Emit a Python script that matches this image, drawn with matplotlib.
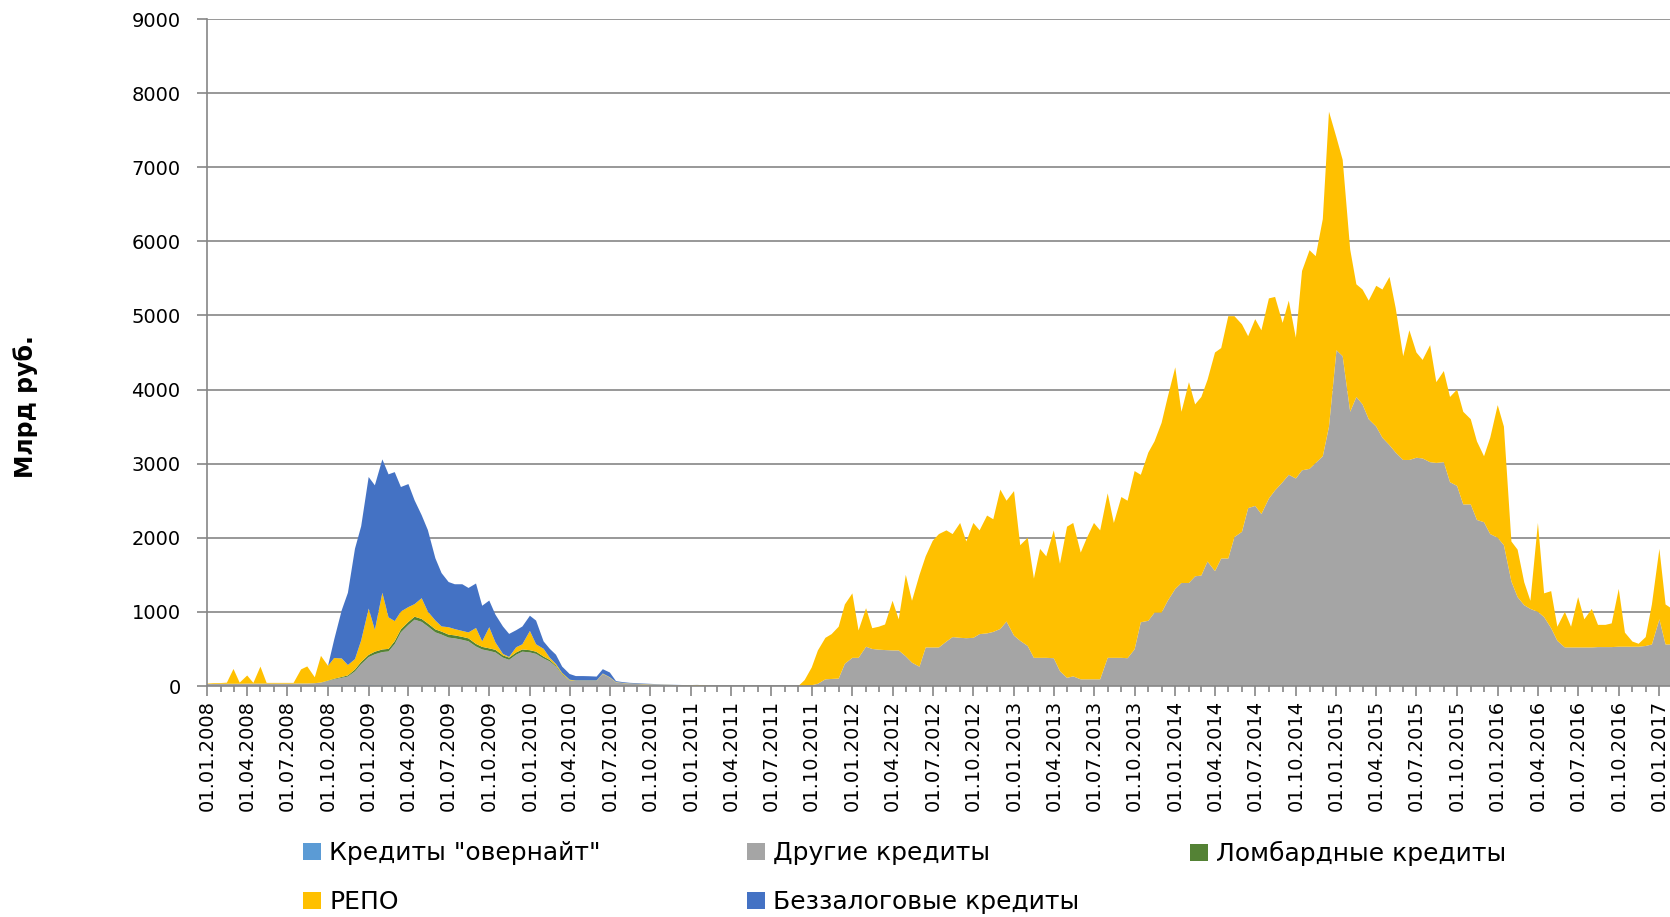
import numpy as np
import pandas as pd
import matplotlib
matplotlib.use("Agg")
import matplotlib.pyplot as plt
import matplotlib.dates as mdates
from matplotlib.patches import Patch

# half-monthly points (1st and 15th), billion rubles
dates = list(pd.date_range("2008-01-01", "2017-01-15", freq="SMS")) + [pd.Timestamp("2017-01-25")]

overnight = [
    2, 2, 2, 2, 2, 2, 2, 2, 2, 2, 2, 2, 2, 2, 2, 2, 3, 5, 8, 10, 10, 8, 8, 10,
    10, 8, 8, 6, 6, 5, 5, 5, 5, 4, 4, 4, 3, 3, 3, 3, 3, 3, 3, 3, 3, 3, 3, 3,
    3, 3, 2, 2, 2, 2, 2, 2, 2, 2, 2, 2, 2, 2, 2, 1, 1, 1, 1, 1, 1, 1, 1, 1,
    1, 1, 1, 0, 0, 0, 0, 0, 0, 0, 0, 0, 0, 0, 0, 0, 0, 0, 0, 0, 0, 0, 0, 0,
    0, 0, 0, 0, 0, 0, 0, 0, 0, 0, 0, 0, 0, 0, 0, 0, 0, 0, 0, 0, 0, 0, 0, 0,
    0, 0, 0, 0, 0, 0, 0, 0, 0, 0, 0, 0, 0, 0, 0, 0, 0, 0, 0, 0, 0, 0, 0, 0,
    0, 0, 0, 0, 0, 0, 0, 0, 0, 0, 0, 0, 0, 0, 0, 0, 0, 0, 0, 0, 0, 0, 0, 0,
    0, 0, 0, 0, 0, 0, 0, 0, 0, 0, 0, 0, 0, 0, 0, 0, 0, 0, 0, 0, 0, 0, 0, 0,
    0, 0, 0, 0, 0, 0, 0, 0, 0, 0, 0, 0, 0, 0, 0, 0, 0, 0, 0, 0, 0, 0, 0, 0,
    0, 0, 0,
]

other = [
    25, 25, 28, 28, 28, 28, 30, 30, 30, 30, 30, 30, 30, 30, 32, 32, 35, 40, 60, 80, 100, 120, 190, 285,
    380, 420, 450, 460, 560, 720, 820, 890, 860, 800, 720, 690, 650, 640, 620, 600, 530, 490, 470, 450, 380, 350, 420, 460,
    450, 430, 370, 330, 260, 150, 70, 65, 65, 65, 65, 160, 110, 45, 35, 30, 25, 22, 20, 18, 15, 12, 10, 8,
    5, 3, 2, 1, 0, 0, 0, 0, 0, 0, 0, 0, 0, 0, 0, 0, 0, 0, 10, 30, 90, 95, 100, 300,
    380, 380, 530, 500, 490, 485, 480, 480, 400, 315, 260, 520, 520, 520, 600, 660, 650, 645, 650, 700, 710, 730, 770, 870,
    680, 610, 540, 380, 380, 380, 375, 200, 110, 130, 90, 90, 90, 90, 380, 380, 380, 375, 495, 860, 880, 990, 990, 1150,
    1310, 1390, 1390, 1480, 1490, 1680, 1550, 1720, 1720, 2010, 2080, 2400, 2430, 2320, 2530, 2640, 2750, 2850, 2800, 2910, 2930, 3010, 3100, 3500,
    4530, 4450, 3700, 3900, 3800, 3600, 3500, 3350, 3250, 3150, 3050, 3050, 3080, 3070, 3020, 3010, 3020, 2750, 2700, 2450, 2450, 2240, 2210, 2050,
    2000, 1900, 1410, 1200, 1090, 1040, 1000, 930, 780, 610, 520, 520, 520, 520, 520, 525, 525, 525, 530, 530, 530, 530, 540, 560,
    900, 560, 560,
]

lombard = [
    0, 0, 0, 0, 0, 0, 0, 0, 0, 0, 0, 0, 0, 0, 0, 0, 0, 2, 5, 8, 12, 15, 25, 30,
    30, 35, 35, 35, 40, 40, 40, 40, 40, 40, 40, 40, 40, 40, 40, 40, 35, 35, 35, 35, 30, 30, 30, 30,
    30, 30, 25, 20, 15, 10, 5, 2, 2, 2, 2, 2, 2, 1, 1, 1, 1, 1, 0, 0, 0, 0, 0, 0,
    0, 0, 0, 0, 0, 0, 0, 0, 0, 0, 0, 0, 0, 0, 0, 0, 0, 0, 0, 0, 0, 0, 0, 0,
    0, 0, 0, 0, 0, 0, 0, 0, 0, 0, 0, 0, 0, 0, 0, 0, 0, 0, 0, 0, 0, 0, 0, 0,
    0, 0, 0, 0, 0, 0, 0, 0, 0, 0, 0, 0, 0, 0, 0, 0, 0, 0, 0, 0, 0, 0, 0, 0,
    0, 0, 0, 0, 0, 0, 0, 0, 0, 0, 0, 0, 0, 0, 0, 0, 0, 0, 0, 0, 0, 0, 0, 0,
    0, 0, 0, 0, 0, 0, 0, 0, 0, 0, 0, 0, 0, 0, 0, 0, 0, 0, 0, 0, 0, 0, 0, 0,
    0, 0, 0, 0, 0, 0, 0, 0, 0, 0, 0, 0, 0, 0, 0, 0, 0, 0, 0, 0, 0, 0, 0, 0,
    0, 0, 0,
]

repo = [
    5, 10, 10, 15, 200, 15, 110, 10, 230, 10, 10, 10, 10, 10, 190, 230, 80, 360, 200, 280, 250, 140, 140, 290,
    625, 295, 765, 425, 270, 240, 200, 170, 280, 160, 120, 70, 100, 85, 80, 80, 215, 75, 285, 100, 20, 10, 70, 70,
    260, 100, 105, 30, 20, 15, 8, 5, 5, 5, 5, 5, 5, 5, 3, 3, 3, 3, 3, 2, 2, 2, 2, 2,
    5, 10, 5, 0, 0, 0, 0, 0, 0, 0, 0, 0, 0, 0, 0, 0, 0, 80, 240, 450, 560, 605, 700, 800,
    870, 370, 520, 280, 310, 345, 670, 420, 1100, 835, 1240, 1230, 1440, 1530, 1500, 1390, 1550, 1305, 1550, 1400, 1590, 1520, 1880, 1630,
    1950, 1290, 1460, 1070, 1470, 1370, 1725, 1450, 2040, 2070, 1710, 1910, 2110, 2010, 2220, 1820, 2170, 2125, 2405, 1990, 2270, 2310, 2560, 2750,
    2990, 2310, 2710, 2320, 2410, 2450, 2950, 2840, 3270, 2980, 2800, 2320, 2520, 2480, 2700, 2610, 2150, 2350, 1900, 2690, 2950, 2790, 3200, 4250,
    2870, 2650, 2190, 1520, 1550, 1600, 1900, 2000, 2270, 1950, 1400, 1750, 1420, 1330, 1580, 1090, 1230, 1150, 1300, 1250, 1150, 1060, 890, 1300,
    1790, 1600, 540, 640, 310, 110, 1200, 320, 500, 190, 480, 280, 680, 380, 520, 300, 300, 320, 780, 190, 70, 40, 120, 540,
    950, 540, 500,
]

unsecured = [
    0, 0, 0, 0, 0, 0, 0, 0, 0, 0, 0, 0, 0, 0, 0, 0, 0, 0, 0, 250, 650, 975, 1490, 1540,
    1775, 1950, 1800, 1930, 2010, 1680, 1660, 1400, 1120, 1100, 840, 720, 610, 605, 630, 600, 600, 480, 360, 375, 370, 310, 230, 240,
    205, 320, 100, 120, 125, 85, 77, 60, 60, 58, 53, 58, 63, 13, 10, 8, 8, 6, 5, 4, 3, 3, 2, 2,
    2, 1, 1, 0, 0, 0, 0, 0, 0, 0, 0, 0, 0, 0, 0, 0, 0, 0, 0, 0, 0, 0, 0, 0,
    0, 0, 0, 0, 0, 0, 0, 0, 0, 0, 0, 0, 0, 0, 0, 0, 0, 0, 0, 0, 0, 0, 0, 0,
    0, 0, 0, 0, 0, 0, 0, 0, 0, 0, 0, 0, 0, 0, 0, 0, 0, 0, 0, 0, 0, 0, 0, 0,
    0, 0, 0, 0, 0, 0, 0, 0, 0, 0, 0, 0, 0, 0, 0, 0, 0, 0, 0, 0, 0, 0, 0, 0,
    0, 0, 0, 0, 0, 0, 0, 0, 0, 0, 0, 0, 0, 0, 0, 0, 0, 0, 0, 0, 0, 0, 0, 0,
    0, 0, 0, 0, 0, 0, 0, 0, 0, 0, 0, 0, 0, 0, 0, 0, 0, 0, 0, 0, 0, 0, 0, 0,
    0, 0, 0,
]

labels = ['Кредиты "овернайт"', "Другие кредиты", "Ломбардные кредиты", "РЕПО", "Беззалоговые кредиты"]
colors = ["#5B9BD5", "#A5A5A5", "#548235", "#FFC000", "#4472C4"]

fig = plt.figure(figsize=(16.7, 9.17), dpi=100)
ax = fig.add_axes([207 / 1670, 1 - 686 / 917, 1 - 207 / 1670, (686 - 19) / 917])

ax.stackplot(dates, overnight, other, lombard, repo, unsecured, colors=colors, linewidth=0)

ax.set_ylim(0, 9000)
ax.set_yticks(range(0, 9001, 1000))
ax.set_xlim(pd.Timestamp("2008-01-01"), pd.Timestamp("2017-01-25"))
ax.xaxis.set_major_locator(mdates.MonthLocator(bymonth=[1, 4, 7, 10], bymonthday=1))
ax.xaxis.set_minor_locator(mdates.MonthLocator(bymonthday=1))
ax.xaxis.set_major_formatter(mdates.DateFormatter("%d.%m.%Y"))
plt.setp(ax.get_xticklabels(), rotation=90)

ax.set_axisbelow(True)
ax.yaxis.grid(True, color="#868686", linewidth=1.2)
for s in ["top", "right"]:
    ax.spines[s].set_visible(False)
for s in ["left", "bottom"]:
    ax.spines[s].set_color("#868686")
    ax.spines[s].set_linewidth(1.2)

ax.tick_params(axis="y", length=7, width=1.2, color="#868686", pad=12, labelsize=14)
ax.tick_params(axis="x", which="major", length=7, width=1.2, color="#868686", pad=3, labelsize=14)
ax.tick_params(axis="x", which="minor", length=4, width=1.2, color="#868686")

fig.text(26 / 1670, 1 - 407 / 917, "Млрд руб.", rotation=90, fontsize=17,
         fontweight="bold", ha="center", va="center")

# legend: three columns placed by hand
h = [Patch(facecolor=c) for c in colors]
cols = [([h[0], h[3]], [labels[0], labels[3]], 303),
        ([h[1], h[4]], [labels[1], labels[4]], 747),
        ([h[2]], [labels[2]], 1190)]
for hh, ll, x in cols:
    fig.legend(hh, ll, loc="upper left", bbox_to_anchor=(x / 1670, 1 - 841 / 917),
               frameon=False, fontsize=18, handlelength=0.7, handleheight=0.7,
               handletextpad=0.35, borderpad=0, borderaxespad=0, labelspacing=1.0)

fig.savefig("out.png", dpi=100)
